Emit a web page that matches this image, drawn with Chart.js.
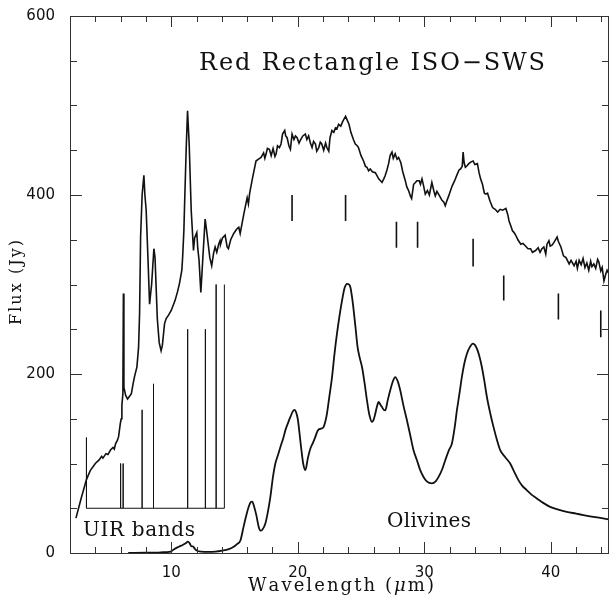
<!DOCTYPE html>
<html lang="en">
<head>
    <meta charset="UTF-8">
    <title>Red Rectangle ISO-SWS</title>
    <script src="https://cdn.jsdelivr.net/npm/chart.js"></script>
    <style>
        body { margin: 0; background: #fff; }
        canvas { display: block; }
    </style>
</head>
<body>
    <canvas id="chart" width="609" height="597"></canvas>

    <script>
        // ISO-SWS spectrum of the Red Rectangle (wavelength in micron, flux in Jy)
        const specWave = [2.47, 2.9, 3.3, 3.39, 3.6, 4.0, 4.3, 4.5, 4.6, 4.84, 5.0, 5.2, 5.4, 5.5, 5.6, 5.75, 5.84, 5.98, 6.05, 6.1, 6.18, 6.22, 6.26, 6.4, 6.55, 6.65, 6.85, 7.0, 7.1, 7.29, 7.42, 7.5, 7.58, 7.7, 7.84, 7.92, 8.02, 8.16, 8.29, 8.36, 8.45, 8.63, 8.72, 8.8, 8.9, 9.05, 9.2, 9.3, 9.47, 9.6, 9.8, 10.0, 10.3, 10.5, 10.65, 10.84, 10.9, 11.0, 11.05, 11.18, 11.29, 11.42, 11.58, 11.76, 11.85, 12.02, 12.1, 12.2, 12.34, 12.42, 12.5, 12.68, 12.8, 12.89, 13.05, 13.2, 13.35, 13.47, 13.6, 13.75, 13.86, 13.9, 14.05, 14.26, 14.42, 14.52, 14.7, 14.94, 15.18, 15.34, 15.45, 15.74, 16.0, 16.1, 16.2, 16.44, 16.7, 16.9, 17.1, 17.3, 17.4, 17.5, 17.6, 17.76, 17.9, 18.05, 18.2, 18.29, 18.4, 18.55, 18.68, 18.8, 18.97, 19.05, 19.16, 19.3, 19.42, 19.55, 19.7, 19.82, 19.95, 20.1, 20.2, 20.4, 20.6, 20.72, 20.86, 21.0, 21.13, 21.25, 21.4, 21.5, 21.66, 21.78, 21.9, 22.05, 22.2, 22.3, 22.45, 22.55, 22.7, 22.85, 22.98, 23.1, 23.23, 23.4, 23.55, 23.78, 23.9, 24.05, 24.2, 24.4, 24.55, 24.7, 24.8, 25.0, 25.2, 25.35, 25.47, 25.6, 25.73, 25.9, 26.13, 26.4, 26.66, 26.8, 26.92, 27.05, 27.18, 27.3, 27.45, 27.55, 27.7, 27.85, 27.97, 28.15, 28.3, 28.5, 28.62, 28.76, 28.9, 29.0, 29.16, 29.3, 29.42, 29.6, 29.7, 29.82, 29.95, 30.08, 30.25, 30.4, 30.6, 30.75, 30.87, 31.0, 31.13, 31.25, 31.4, 31.55, 31.66, 31.8, 31.93, 32.05, 32.2, 32.4, 32.6, 32.75, 32.86, 33.0, 33.07, 33.15, 33.25, 33.4, 33.52, 33.7, 33.86, 34.0, 34.2, 34.33, 34.45, 34.6, 34.75, 34.86, 35.0, 35.2, 35.4, 35.6, 35.8, 36.0, 36.2, 36.45, 36.6, 36.7, 36.85, 36.97, 37.1, 37.23, 37.4, 37.63, 37.8, 38.0, 38.2, 38.4, 38.55, 38.8, 39.0, 39.15, 39.3, 39.45, 39.6, 39.7, 39.85, 39.95, 40.1, 40.25, 40.5, 40.6, 40.8, 40.9, 41.0, 41.2, 41.45, 41.6, 41.84, 42.0, 42.1, 42.24, 42.4, 42.55, 42.7, 42.85, 43.0, 43.15, 43.25, 43.4, 43.55, 43.7, 43.8, 43.95, 44.06, 44.2, 44.35, 44.45, 44.6];
        const specFlux = [39, 62, 82, 85, 92, 100, 104, 108, 106, 111, 110, 115, 118, 116, 122, 126, 130, 145, 150, 165, 178, 290, 185, 176, 172, 174, 178, 190, 197, 208, 230, 268, 353, 400, 422, 400, 383, 330, 278, 288, 300, 340, 330, 300, 262, 235, 226, 232, 256, 262, 266, 271, 282, 292, 301, 316, 330, 360, 386, 450, 494, 457, 383, 338, 352, 358, 340, 327, 291, 310, 330, 373, 360, 349, 330, 321, 335, 342, 336, 345, 349, 345, 352, 355, 342, 340, 350, 357, 362, 364, 357, 379, 397, 390, 402, 420, 438, 440, 442, 447, 441, 446, 452, 451, 444, 452, 443, 446, 455, 453, 457, 468, 472, 466, 464, 455, 451, 468, 462, 466, 464, 458, 461, 466, 468, 462, 466, 458, 453, 460, 457, 449, 453, 459, 457, 450, 458, 453, 449, 464, 472, 470, 475, 474, 479, 477, 482, 488, 484, 479, 470, 462, 457, 455, 453, 444, 438, 432, 431, 427, 429, 426, 425, 418, 414, 418, 422, 428, 435, 444, 448, 441, 446, 440, 442, 436, 426, 416, 409, 405, 399, 396, 412, 414, 416, 416, 412, 418, 410, 401, 405, 400, 414, 405, 399, 404, 401, 398, 394, 392, 388, 394, 399, 404, 410, 416, 423, 428, 429, 432, 448, 436, 431, 433, 435, 437, 438, 434, 435, 425, 418, 412, 402, 401, 402, 393, 386, 384, 381, 384, 383, 385, 378, 371, 365, 360, 358, 355, 350, 345, 346, 343, 340, 340, 336, 338, 341, 336, 340, 342, 334, 345, 349, 343, 344, 347, 353, 348, 342, 337, 332, 330, 323, 327, 321, 326, 318, 327, 322, 329, 319, 324, 316, 326, 320, 323, 318, 328, 325, 315, 319, 304, 312, 316, 312];

        // laboratory olivine emission curve
        const olivWave = [6.6, 8.0, 9.0, 9.6, 9.95, 10.2, 10.6, 10.9, 11.15, 11.31, 11.45, 11.6, 11.72, 11.85, 12.05, 12.4, 12.84, 13.5, 14.03, 14.5, 14.94, 15.2, 15.47, 15.73, 15.95, 16.13, 16.3, 16.4, 16.55, 16.73, 16.9, 17.05, 17.2, 17.44, 17.64, 17.84, 18.05, 18.23, 18.45, 18.63, 18.85, 19.02, 19.25, 19.42, 19.6, 19.73, 19.85, 20.0, 20.13, 20.26, 20.43, 20.6, 20.8, 21.0, 21.2, 21.39, 21.55, 21.65, 21.85, 22.05, 22.2, 22.31, 22.5, 22.71, 22.9, 23.1, 23.3, 23.5, 23.7, 23.9, 24.05, 24.16, 24.3, 24.42, 24.58, 24.73, 24.9, 25.08, 25.28, 25.47, 25.65, 25.87, 26.0, 26.13, 26.25, 26.39, 26.52, 26.66, 26.8, 26.92, 27.1, 27.31, 27.5, 27.7, 27.9, 28.1, 28.35, 28.63, 28.9, 29.15, 29.42, 29.68, 29.94, 30.2, 30.6, 30.9, 31.13, 31.4, 31.66, 31.95, 32.18, 32.4, 32.58, 32.78, 32.97, 33.17, 33.37, 33.6, 33.84, 34.0, 34.16, 34.35, 34.55, 34.75, 34.95, 35.2, 35.47, 35.75, 36.0, 36.4, 36.79, 37.1, 37.44, 37.75, 38.1, 38.5, 38.9, 39.4, 39.94, 40.6, 41.26, 42.0, 42.57, 43.5, 44.6];
        const olivFlux = [0, 0.3, 0.5, 1, 1.5, 4, 7, 9, 11, 12.6, 11, 7.5, 7.5, 5, 2.6, 1.5, 1.2, 1.5, 2.6, 4, 7, 10, 14, 30, 43, 52, 57, 57.5, 52, 42, 30, 25, 26, 33, 46, 63, 86, 100, 110, 118.5, 128, 137, 146, 152, 158, 160, 158, 150, 135, 118.5, 100, 92.6, 106, 116.8, 123, 129.7, 136, 138, 139, 141, 148, 155.8, 175, 196.6, 222, 245, 265, 282, 296, 300.8, 300, 297, 285, 271, 250, 230, 218, 207.8, 190, 170.6, 155, 146.4, 149, 155.8, 163, 168.7, 166, 163, 160, 159.5, 170, 181.8, 191, 196.6, 192, 181.8, 165, 148.3, 131, 114.9, 103.7, 92.6, 85, 80, 77.7, 80, 85, 93, 103.7, 115, 122, 140, 159.5, 178, 196.6, 212, 222.7, 230, 233.9, 232.5, 228.3, 220, 207.8, 192, 174.3, 157, 140.9, 126, 114.9, 107, 100, 91, 81.4, 75, 70.3, 65, 61, 56, 51.6, 48.5, 46, 44, 42.4, 40, 37.6];

        // UIR band sticks on a common baseline
        const bandWave = [3.3, 6.0, 6.2, 7.7, 8.6, 11.3, 12.7, 13.55, 14.2];
        const bandTop = [129, 100, 100, 160, 189, 250, 250, 300, 300];
        const bandBase = 50;

        // olivine feature markers
        const markWave = [19.55, 23.78, 27.8, 29.47, 33.86, 36.28, 40.6, 43.95];
        const markTop = [400, 400, 370, 370, 351, 310, 290, 271];
        const markBottom = [371, 371, 341, 341, 320, 282, 261, 241];

        const xTickValues = [10, 20, 30, 40];
        const yTickValues = [0, 200, 400, 600];
        const xMinorStep = 2;
        const yMinorStep = 50;

        const ink = '#111';
        const serif = '"DejaVu Serif", "Liberation Serif", serif';

        // build data tables for the library
        const spectrum = specWave.map((w, i) => ({ x: w, y: specFlux[i] }));
        const olivines = olivWave.map((w, i) => ({ x: w, y: olivFlux[i] }));

        const sticks = [];
        bandWave.forEach((w, i) => {
            sticks.push({ x: w, y: bandBase });
            sticks.push({ x: w, y: bandTop[i] });
            if (i < bandWave.length - 1) sticks.push({ x: w, y: bandBase });
        });

        const markers = [];
        markWave.forEach((w, i) => {
            markers.push({ x: w, y: markTop[i] });
            markers.push({ x: w, y: markBottom[i] });
            markers.push({ x: w, y: null });
        });

        // draw characters one by one so a string fills a given width
        function fitText(ctx, parts, x, y, width) {
            const chars = [];
            parts.forEach(p => [...p.t].forEach(c => chars.push({ c: c, f: p.f })));
            let natural = 0;
            chars.forEach(ch => { ctx.font = ch.f; ch.w = ctx.measureText(ch.c).width; natural += ch.w; });
            const gap = chars.length > 1 ? (width - natural) / (chars.length - 1) : 0;
            let cx = x;
            chars.forEach(ch => {
                ctx.font = ch.f;
                ctx.fillText(ch.c, cx, y);
                cx += ch.w + gap;
            });
        }

        // frame with inward ticks on all four sides, plus the text labels
        const framePlugin = {
            id: 'frame',
            afterDraw(chart) {
                const ctx = chart.ctx;
                const a = chart.chartArea;
                const xs = chart.scales.x;
                const ys = chart.scales.y;
                ctx.save();
                ctx.strokeStyle = '#333';
                ctx.lineWidth = 1;
                ctx.strokeRect(a.left + 0.5, a.top + 0.5, a.right - a.left - 1, a.bottom - a.top);

                ctx.beginPath();
                for (let v = Math.ceil(xs.min / xMinorStep) * xMinorStep; v <= xs.max; v += xMinorStep) {
                    const len = xTickValues.includes(v) ? 11 : 6;
                    const px = Math.round(xs.getPixelForValue(v)) + 0.5;
                    ctx.moveTo(px, a.bottom); ctx.lineTo(px, a.bottom - len);
                    ctx.moveTo(px, a.top); ctx.lineTo(px, a.top + len);
                }
                for (let v = ys.min; v <= ys.max; v += yMinorStep) {
                    const len = yTickValues.includes(v) ? 12 : 7;
                    const py = Math.round(ys.getPixelForValue(v)) + 0.5;
                    ctx.moveTo(a.left, py); ctx.lineTo(a.left + len, py);
                    ctx.moveTo(a.right, py); ctx.lineTo(a.right - len, py);
                }
                ctx.stroke();

                ctx.fillStyle = ink;
                ctx.textBaseline = 'alphabetic';
                ctx.textAlign = 'left';
                fitText(ctx, [{ t: 'Red Rectangle ISO\u2212SWS', f: '24px ' + serif }], 199, 69.5, 346);
                fitText(ctx, [{ t: 'UIR bands', f: '20px ' + serif }], 83, 535.5, 112);
                fitText(ctx, [{ t: 'Olivines', f: '20px ' + serif }], 387, 527, 84);
                fitText(ctx, [
                    { t: 'Wavelength (', f: '18px ' + serif },
                    { t: '\u03bc', f: 'italic 18px ' + serif },
                    { t: 'm)', f: '18px ' + serif }
                ], 248, 590.5, 186);

                ctx.translate(20.5, 282.5);
                ctx.rotate(-Math.PI / 2);
                fitText(ctx, [{ t: 'Flux (Jy)', f: '16px ' + serif }], -42.5, 0, 85);
                ctx.restore();
            }
        };

        const tickFont = { family: '"DejaVu Sans", sans-serif', size: 15 };

        new Chart(document.getElementById('chart').getContext('2d'), {
            type: 'line',
            data: {
                datasets: [
                    {
                        label: 'ISO-SWS',
                        data: spectrum,
                        borderColor: ink,
                        borderWidth: 1.6,
                        pointRadius: 0,
                        tension: 0
                    },
                    {
                        label: 'Olivines',
                        data: olivines,
                        borderColor: ink,
                        borderWidth: 1.8,
                        pointRadius: 0,
                        cubicInterpolationMode: 'monotone'
                    },
                    {
                        label: 'UIR bands',
                        data: sticks,
                        borderColor: ink,
                        borderWidth: 1,
                        pointRadius: 0,
                        tension: 0
                    },
                    {
                        label: 'markers',
                        data: markers,
                        borderColor: ink,
                        borderWidth: 1.6,
                        pointRadius: 0,
                        spanGaps: false
                    }
                ]
            },
            options: {
                responsive: false,
                animation: false,
                devicePixelRatio: 1,
                layout: { padding: { top: 15, right: 0, bottom: 0, left: 0 } },
                plugins: {
                    legend: { display: false },
                    tooltip: { enabled: false }
                },
                scales: {
                    x: {
                        type: 'linear',
                        min: 2,
                        max: 44.6,
                        afterBuildTicks: s => { s.ticks = xTickValues.map(v => ({ value: v })); },
                        afterFit: s => { s.height = 44; },
                        grid: { display: false },
                        border: { display: false },
                        ticks: { font: tickFont, color: ink, padding: 3, maxRotation: 0, autoSkip: false }
                    },
                    y: {
                        min: 0,
                        max: 600,
                        afterBuildTicks: s => { s.ticks = yTickValues.map(v => ({ value: v })); },
                        afterFit: s => { s.width = 70; },
                        grid: { display: false },
                        border: { display: false },
                        ticks: { font: tickFont, color: ink, padding: 7 }
                    }
                }
            },
            plugins: [framePlugin]
        });
    </script>
</body>
</html>
